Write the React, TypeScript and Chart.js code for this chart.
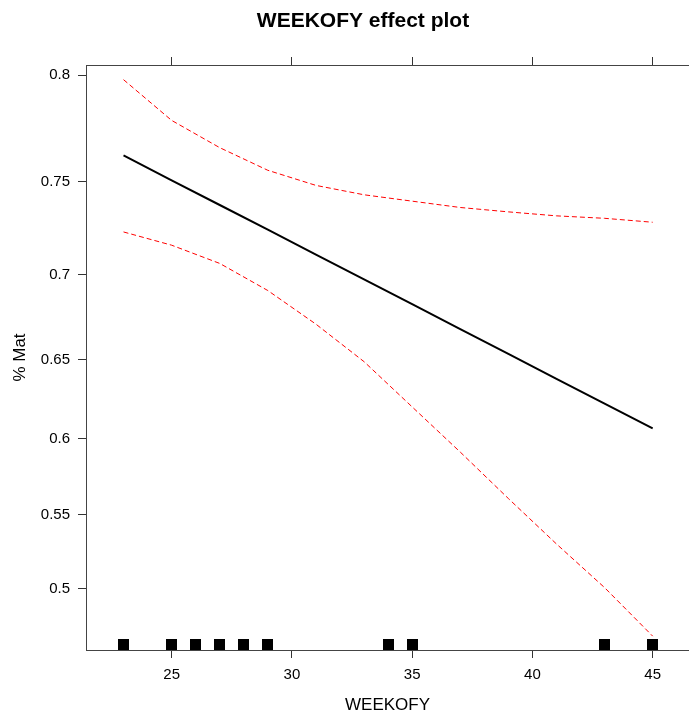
import React, { useEffect, useRef } from "react";
import { Chart, registerables } from "chart.js";

Chart.register(...registerables);

// ---- data (probabilities, plotted on a logit scale) ----
const weeks = [23, 25, 27, 29, 31, 33, 35, 37, 39, 41, 43, 45];
const fitP = [0.7631, 0.7507, 0.738, 0.7249, 0.7113, 0.6974, 0.6831, 0.6684, 0.6534, 0.638, 0.6224, 0.6065];
const upperP = [0.798, 0.7797, 0.7668, 0.7557, 0.7481, 0.7433, 0.74, 0.7367, 0.7344, 0.7323, 0.731, 0.7289];
const lowerP = [0.7237, 0.7165, 0.7064, 0.691, 0.6713, 0.6486, 0.6203, 0.5912, 0.5606, 0.5302, 0.5008, 0.4681];
const rugWeeks = [23, 25, 26, 27, 28, 29, 34, 35, 43, 45];
const xTicks = [25, 30, 35, 40, 45];
const yTicks = [0.5, 0.55, 0.6, 0.65, 0.7, 0.75, 0.8];
const xRange = [21.44, 46.51];
const yRange = [0.4588, 0.8043];

const TITLE = "WEEKOFY effect plot";
const X_TITLE = "WEEKOFY";
const Y_TITLE = "% Mat";

const logit = (p: number) => Math.log(p / (1 - p));
const toPts = (arr: number[]) => weeks.map((w, i) => ({ x: w, y: logit(arr[i]) }));

const TEXT_FONT = "'Liberation Sans', Arial, sans-serif";

const annotPlugin = {
  id: "annot",
  afterDatasetsDraw(chart: any) {
    const { ctx, chartArea, scales } = chart;
    ctx.save();
    ctx.fillStyle = "#000";
    rugWeeks.forEach((w) => {
      const px = scales.x.getPixelForValue(w);
      ctx.fillRect(Math.round(px - 5.5), chartArea.bottom - 11, 11, 11);
    });
    ctx.restore();
  },
  afterDraw(chart: any) {
    const { ctx, chartArea } = chart;
    ctx.save();
    ctx.fillStyle = "#000";
    ctx.font = `bold 21px ${TEXT_FONT}`;
    ctx.textAlign = "center";
    ctx.textBaseline = "alphabetic";
    ctx.fillText(TITLE, 363, 27);

    ctx.font = `17px ${TEXT_FONT}`;
    ctx.textBaseline = "middle";
    ctx.fillText(X_TITLE, (chartArea.left + chartArea.right) / 2, 705);

    ctx.translate(20, (chartArea.top + chartArea.bottom) / 2);
    ctx.rotate(-Math.PI / 2);
    ctx.fillText(Y_TITLE, 0, 0);
    ctx.restore();
  },
};

export default function App() {
  const ref = useRef<HTMLCanvasElement | null>(null);

  useEffect(() => {
    if (!ref.current) return;
    const gridCfg = {
      drawOnChartArea: false,
      drawTicks: true,
      tickLength: 8,
      color: "#333",
      lineWidth: 1,
    };
    const borderCfg = { display: true, color: "#444", width: 1 };
    const chart = new Chart(ref.current, {
      type: "line",
      data: {
        datasets: [
          {
            data: toPts(upperP),
            borderColor: "#ff0000",
            borderWidth: 1,
            borderDash: [5, 3],
            pointRadius: 0,
            fill: false,
            tension: 0,
          },
          {
            data: toPts(lowerP),
            borderColor: "#ff0000",
            borderWidth: 1,
            borderDash: [5, 3],
            pointRadius: 0,
            fill: false,
            tension: 0,
          },
          {
            data: toPts(fitP),
            borderColor: "#000",
            borderWidth: 2,
            pointRadius: 0,
            fill: false,
            tension: 0,
          },
        ],
      },
      options: {
        animation: false,
        responsive: false,
        maintainAspectRatio: false,
        layout: { padding: { top: 57, left: 0, right: 0, bottom: 0 } },
        plugins: {
          legend: { display: false },
          tooltip: { enabled: false },
          title: { display: false },
        },
        scales: {
          x: {
            type: "linear",
            position: "bottom",
            min: xRange[0],
            max: xRange[1],
            afterBuildTicks: (s: any) => {
              s.ticks = xTicks.map((v) => ({ value: v }));
            },
            afterFit: (s: any) => {
              s.height = 69;
            },
            grid: gridCfg,
            border: borderCfg,
            ticks: {
              color: "#000",
              font: { family: TEXT_FONT, size: 15 },
              padding: 8,
              maxRotation: 0,
              autoSkip: false,
            },
          },
          x2: {
            type: "linear",
            position: "top",
            min: xRange[0],
            max: xRange[1],
            afterBuildTicks: (s: any) => {
              s.ticks = xTicks.map((v) => ({ value: v }));
            },
            afterFit: (s: any) => {
              s.height = 8;
            },
            grid: gridCfg,
            border: borderCfg,
            ticks: { display: false },
          },
          y: {
            type: "linear",
            position: "left",
            min: logit(yRange[0]),
            max: logit(yRange[1]),
            afterBuildTicks: (s: any) => {
              s.ticks = yTicks.map((v) => ({ value: logit(v) }));
            },
            afterFit: (s: any) => {
              s.width = 86;
            },
            grid: gridCfg,
            border: borderCfg,
            ticks: {
              color: "#000",
              font: { family: TEXT_FONT, size: 15 },
              padding: 8,
              autoSkip: false,
              callback: (_v: any, i: number) => String(yTicks[i]),
            },
          },
        },
      },
      plugins: [annotPlugin],
    } as any);
    return () => chart.destroy();
  }, []);

  return (
    <div style={{ position: "absolute", left: 0, top: 0, width: 689, height: 719, background: "#fff" }}>
      <canvas ref={ref} width={689} height={719} style={{ display: "block" }} />
    </div>
  );
}
